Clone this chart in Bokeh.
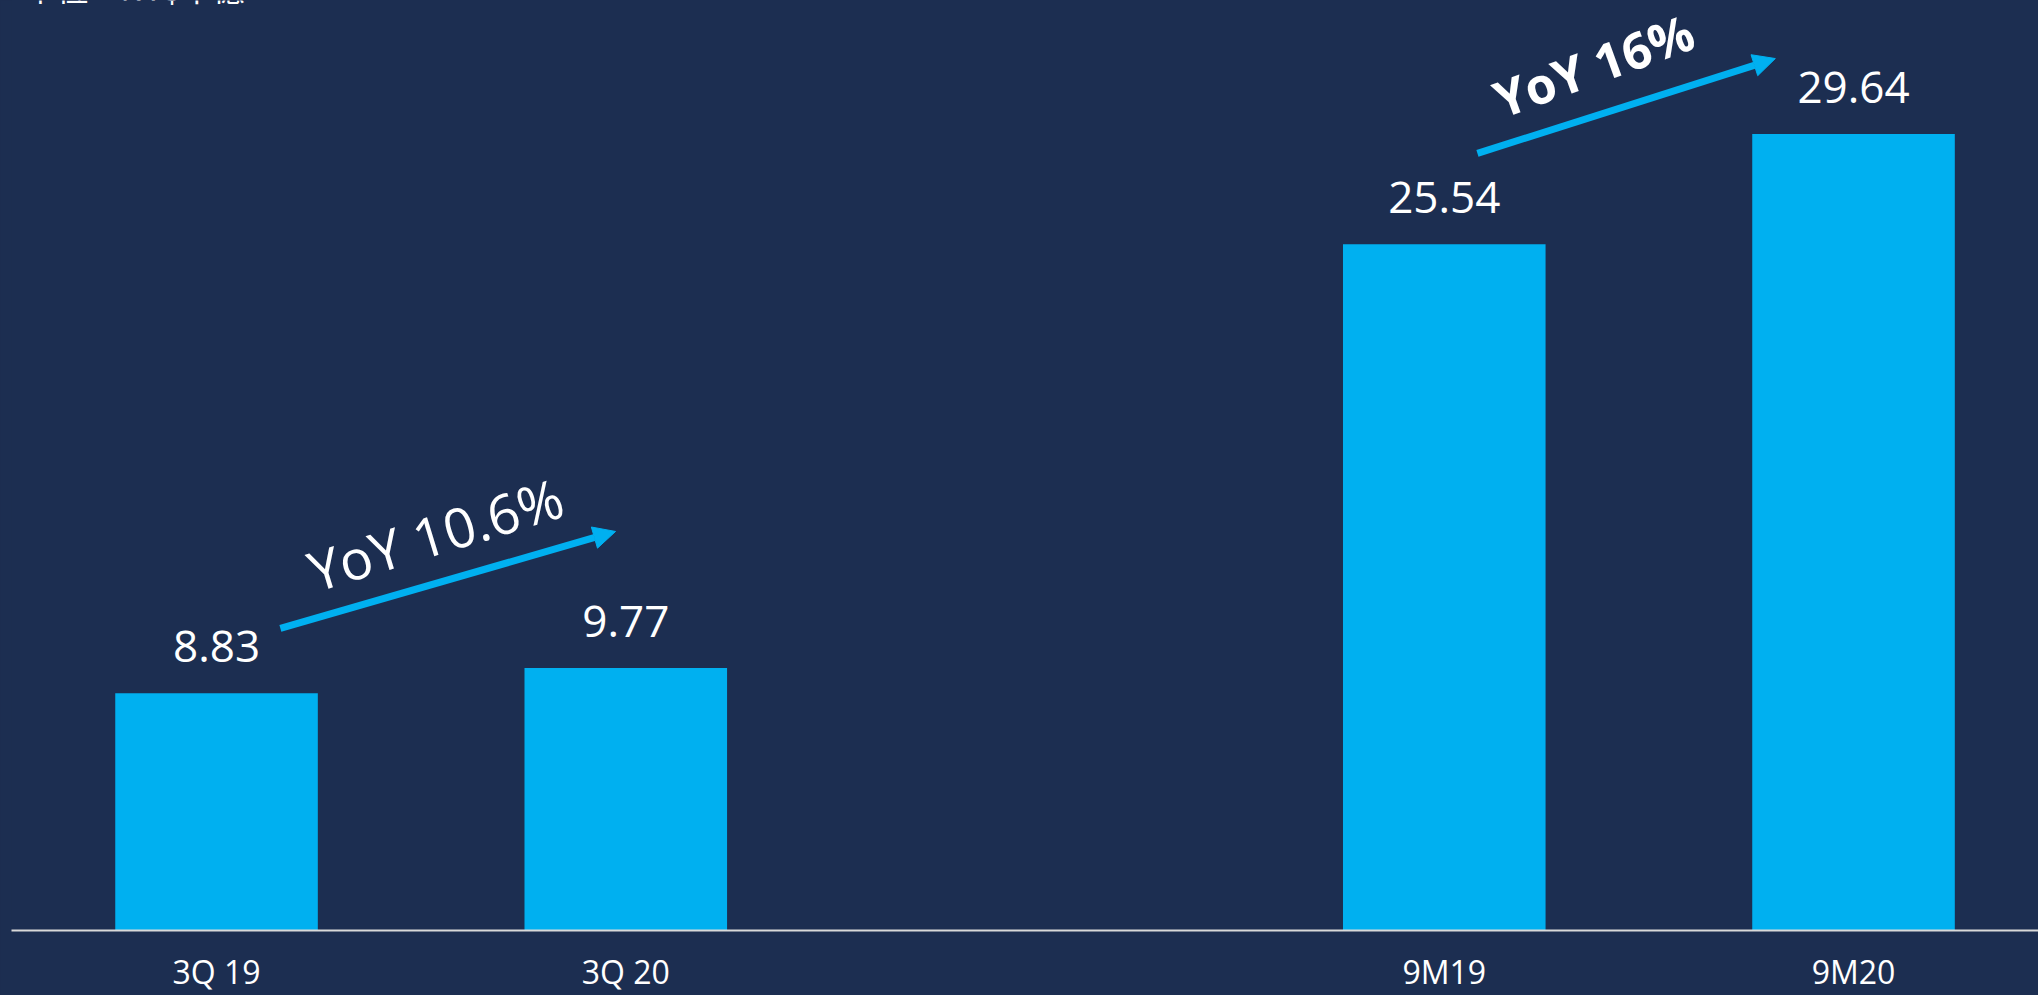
import math
from bokeh.plotting import figure
from bokeh.models import (Range1d, FixedTicker, LabelSet, Label, Arrow, NormalHead,
                          ColumnDataSource)
from bokeh.core.properties import value
from bokeh.embed import file_html
from bokeh.resources import INLINE

# ---- data ----
categories = ["3Q 19", "3Q 20", "9M19", "9M20"]
values = [8.83, 9.77, 25.54, 29.64]
value_labels = ["8.83", "9.77", "25.54", "29.64"]
slot_order = ["3Q 19", "3Q 20", None, "9M19", "9M20"]   # None = visual gap
growth_labels = ["YoY 10.6%", "YoY 16%"]
unit_label = "單位：NT$十億"

BG = "#1c2e51"
BAR = "#00b0f0"
WHITE = "#ffffff"

xs = [slot_order.index(c) for c in categories]
src = ColumnDataSource(dict(x=xs, top=values, label=value_labels, cat=categories))

p = figure(width=2038, height=995, output_backend="svg", toolbar_location=None,
           x_range=Range1d(-0.501, 4.452), y_range=Range1d(0, 34.61),
           min_border_left=11, min_border_right=0, min_border_top=0,
           min_border_bottom=65)
p.styles = {"position": "fixed", "left": "0px", "top": "0px", "background-color": BG}
p.background_fill_color = None
p.border_fill_color = BG
p.outline_line_color = None
p.xgrid.visible = False
p.ygrid.visible = False
p.yaxis.visible = False

p.vbar(x="x", top="top", bottom=0, width=0.495, source=src,
       fill_color=BAR, line_color=None)

ax = p.xaxis[0]
ax.ticker = FixedTicker(ticks=xs)
ax.major_label_overrides = {x: c for x, c in zip(xs, categories)}
ax.axis_line_color = "#d9d9d9"
ax.axis_line_width = 2
ax.major_tick_line_color = None
ax.minor_tick_line_color = None
ax.major_label_text_color = WHITE
ax.major_label_text_font = "Open Sans"
ax.major_label_text_font_size = "32px"
ax.major_label_standoff = 13

p.add_layout(LabelSet(x="x", y="top", text="label", source=src, y_offset=31,
                      text_align="center", text_baseline="alphabetic",
                      text_color=WHITE, text_font=value("Open Sans"),
                      text_font_size="44px"))

# growth arrows (annotations)
for (x0, y0, x1, y1) in [(0.156, 11.24, 0.975, 14.85), (3.081, 28.92, 3.809, 32.45)]:
    p.add_layout(Arrow(end=NormalHead(size=22, fill_color=BAR, line_color=BAR, line_width=1),
                       x_start=x0, y_start=y0, x_end=x1, y_end=y1,
                       line_color=BAR, line_width=7))

p.add_layout(Label(x=0.535, y=14.78, text=growth_labels[0], angle=math.radians(17),
                   text_align="center", text_baseline="middle", text_color=WHITE,
                   text_font="Open Sans", text_font_size="55px"))
p.add_layout(Label(x=3.365, y=32.2, text=growth_labels[1], angle=math.radians(20),
                   text_align="center", text_baseline="middle", text_color=WHITE,
                   text_font="Open Sans", text_font_style="bold", text_font_size="50px"))

p.add_layout(Label(x=-0.469, y=35.13, text=unit_label, text_align="left",
                   text_baseline="alphabetic", text_color=WHITE,
                   text_font="Noto Sans CJK TC", text_font_size="32px"))

open("out.html", "w").write(file_html(p, INLINE))
